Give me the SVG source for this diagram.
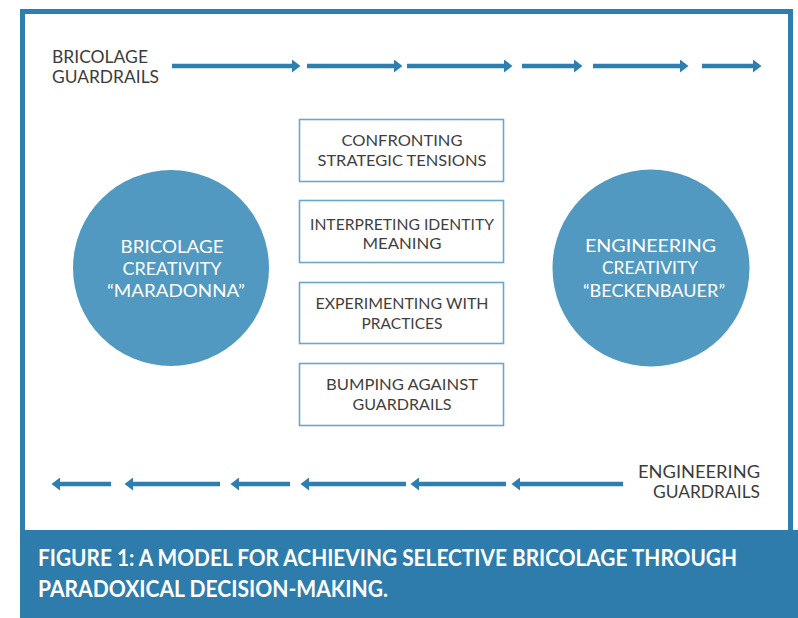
<svg xmlns="http://www.w3.org/2000/svg" width="798" height="618" viewBox="0 0 798 618">
  <style>
    .lbl { font-family: Lato, "Liberation Sans", sans-serif; fill: #3c3c3c; font-size: 17px; }
    .box rect { fill: #ffffff; stroke: #6aa7cd; stroke-width: 1.6; }
    .box text { font-family: Lato, "Liberation Sans", sans-serif; fill: #3f3f3f; font-size: 14.5px; text-anchor: middle; }
    .hub circle { fill: #5199c0; }
    .hub text { font-family: Lato, "Liberation Sans", sans-serif; fill: #ffffff; font-size: 18px; text-anchor: middle; }
    .cap { font-family: Lato, "Liberation Sans", sans-serif; fill: #ffffff; font-size: 22px; font-weight: bold; }
    .flow line { stroke: #2e7fb0; stroke-width: 4.6; }
  </style>
  <defs>
    <marker id="head" markerUnits="userSpaceOnUse" markerWidth="9" markerHeight="13" refX="2" refY="6.5" orient="auto">
      <path d="M0,0 L8.5,6.5 L0,13 Z" fill="#2e7fb0"/>
    </marker>
  </defs>

  <!-- page background -->
  <rect x="0" y="0" width="798" height="618" fill="#ffffff"/>

  <!-- outer frame -->
  <rect x="22.5" y="11.5" width="768" height="522" fill="#ffffff" stroke="#2e7fb0" stroke-width="5"/>

  <!-- caption band -->
  <g id="caption">
    <rect x="20" y="530" width="778" height="88" fill="#2d7cac"/>
    <text class="cap" x="38" y="566" textLength="699" lengthAdjust="spacingAndGlyphs">FIGURE 1: A MODEL FOR ACHIEVING SELECTIVE BRICOLAGE THROUGH</text>
    <text class="cap" x="38" y="597" textLength="350" lengthAdjust="spacingAndGlyphs">PARADOXICAL DECISION-MAKING.</text>
  </g>

  <!-- guardrail labels -->
  <g id="bricolage-guardrails">
    <text class="lbl" x="52" y="63" textLength="96" lengthAdjust="spacingAndGlyphs">BRICOLAGE</text>
    <text class="lbl" x="52" y="83" textLength="107" lengthAdjust="spacingAndGlyphs">GUARDRAILS</text>
  </g>
  <g id="engineering-guardrails">
    <text class="lbl" x="638" y="478" textLength="122" lengthAdjust="spacingAndGlyphs">ENGINEERING</text>
    <text class="lbl" x="653" y="498" textLength="107" lengthAdjust="spacingAndGlyphs">GUARDRAILS</text>
  </g>

  <!-- connectors: dashed arrow rows -->
  <g id="connectors" class="flow">
    <line x1="172" y1="66" x2="294" y2="66" marker-end="url(#head)"/>
    <line x1="307" y1="66" x2="396" y2="66" marker-end="url(#head)"/>
    <line x1="407" y1="66" x2="506" y2="66" marker-end="url(#head)"/>
    <line x1="522" y1="66" x2="576" y2="66" marker-end="url(#head)"/>
    <line x1="593" y1="66" x2="682" y2="66" marker-end="url(#head)"/>
    <line x1="702" y1="66" x2="755" y2="66" marker-end="url(#head)"/>

    <line x1="111" y1="484" x2="58" y2="484" marker-end="url(#head)"/>
    <line x1="220" y1="484" x2="131" y2="484" marker-end="url(#head)"/>
    <line x1="290" y1="484" x2="237" y2="484" marker-end="url(#head)"/>
    <line x1="406" y1="484" x2="307" y2="484" marker-end="url(#head)"/>
    <line x1="506" y1="484" x2="417" y2="484" marker-end="url(#head)"/>
    <line x1="623" y1="484" x2="518" y2="484" marker-end="url(#head)"/>
  </g>

  <!-- creativity poles -->
  <g id="bricolage-creativity" class="hub">
    <circle cx="171" cy="268" r="98"/>
    <text x="172" y="253" textLength="103" lengthAdjust="spacingAndGlyphs">BRICOLAGE</text>
    <text x="172" y="275" textLength="99" lengthAdjust="spacingAndGlyphs">CREATIVITY</text>
    <text x="176" y="297" textLength="138" lengthAdjust="spacingAndGlyphs">“MARADONNA”</text>
  </g>
  <g id="engineering-creativity" class="hub">
    <circle cx="651" cy="268" r="98.5"/>
    <text x="650.5" y="252" textLength="131" lengthAdjust="spacingAndGlyphs">ENGINEERING</text>
    <text x="650" y="274" textLength="96" lengthAdjust="spacingAndGlyphs">CREATIVITY</text>
    <text x="654" y="297" textLength="142" lengthAdjust="spacingAndGlyphs">“BECKENBAUER”</text>
  </g>

  <!-- decision steps -->
  <g id="step-confronting" class="box">
    <rect x="299.5" y="119.5" width="204" height="62"/>
    <text x="402" y="146" textLength="121" lengthAdjust="spacingAndGlyphs">CONFRONTING</text>
    <text x="402" y="165.5" textLength="169" lengthAdjust="spacingAndGlyphs">STRATEGIC TENSIONS</text>
  </g>
  <g id="step-interpreting" class="box">
    <rect x="299.5" y="200.5" width="204" height="62"/>
    <text x="402" y="230" textLength="184" lengthAdjust="spacingAndGlyphs">INTERPRETING IDENTITY</text>
    <text x="402" y="249" textLength="79" lengthAdjust="spacingAndGlyphs">MEANING</text>
  </g>
  <g id="step-experimenting" class="box">
    <rect x="299.5" y="282.5" width="204" height="61"/>
    <text x="402" y="309" textLength="173" lengthAdjust="spacingAndGlyphs">EXPERIMENTING WITH</text>
    <text x="402" y="328.5" textLength="81" lengthAdjust="spacingAndGlyphs">PRACTICES</text>
  </g>
  <g id="step-bumping" class="box">
    <rect x="299.5" y="363.5" width="204" height="62"/>
    <text x="402" y="390" textLength="152" lengthAdjust="spacingAndGlyphs">BUMPING AGAINST</text>
    <text x="402" y="409.5" textLength="99" lengthAdjust="spacingAndGlyphs">GUARDRAILS</text>
  </g>
</svg>
